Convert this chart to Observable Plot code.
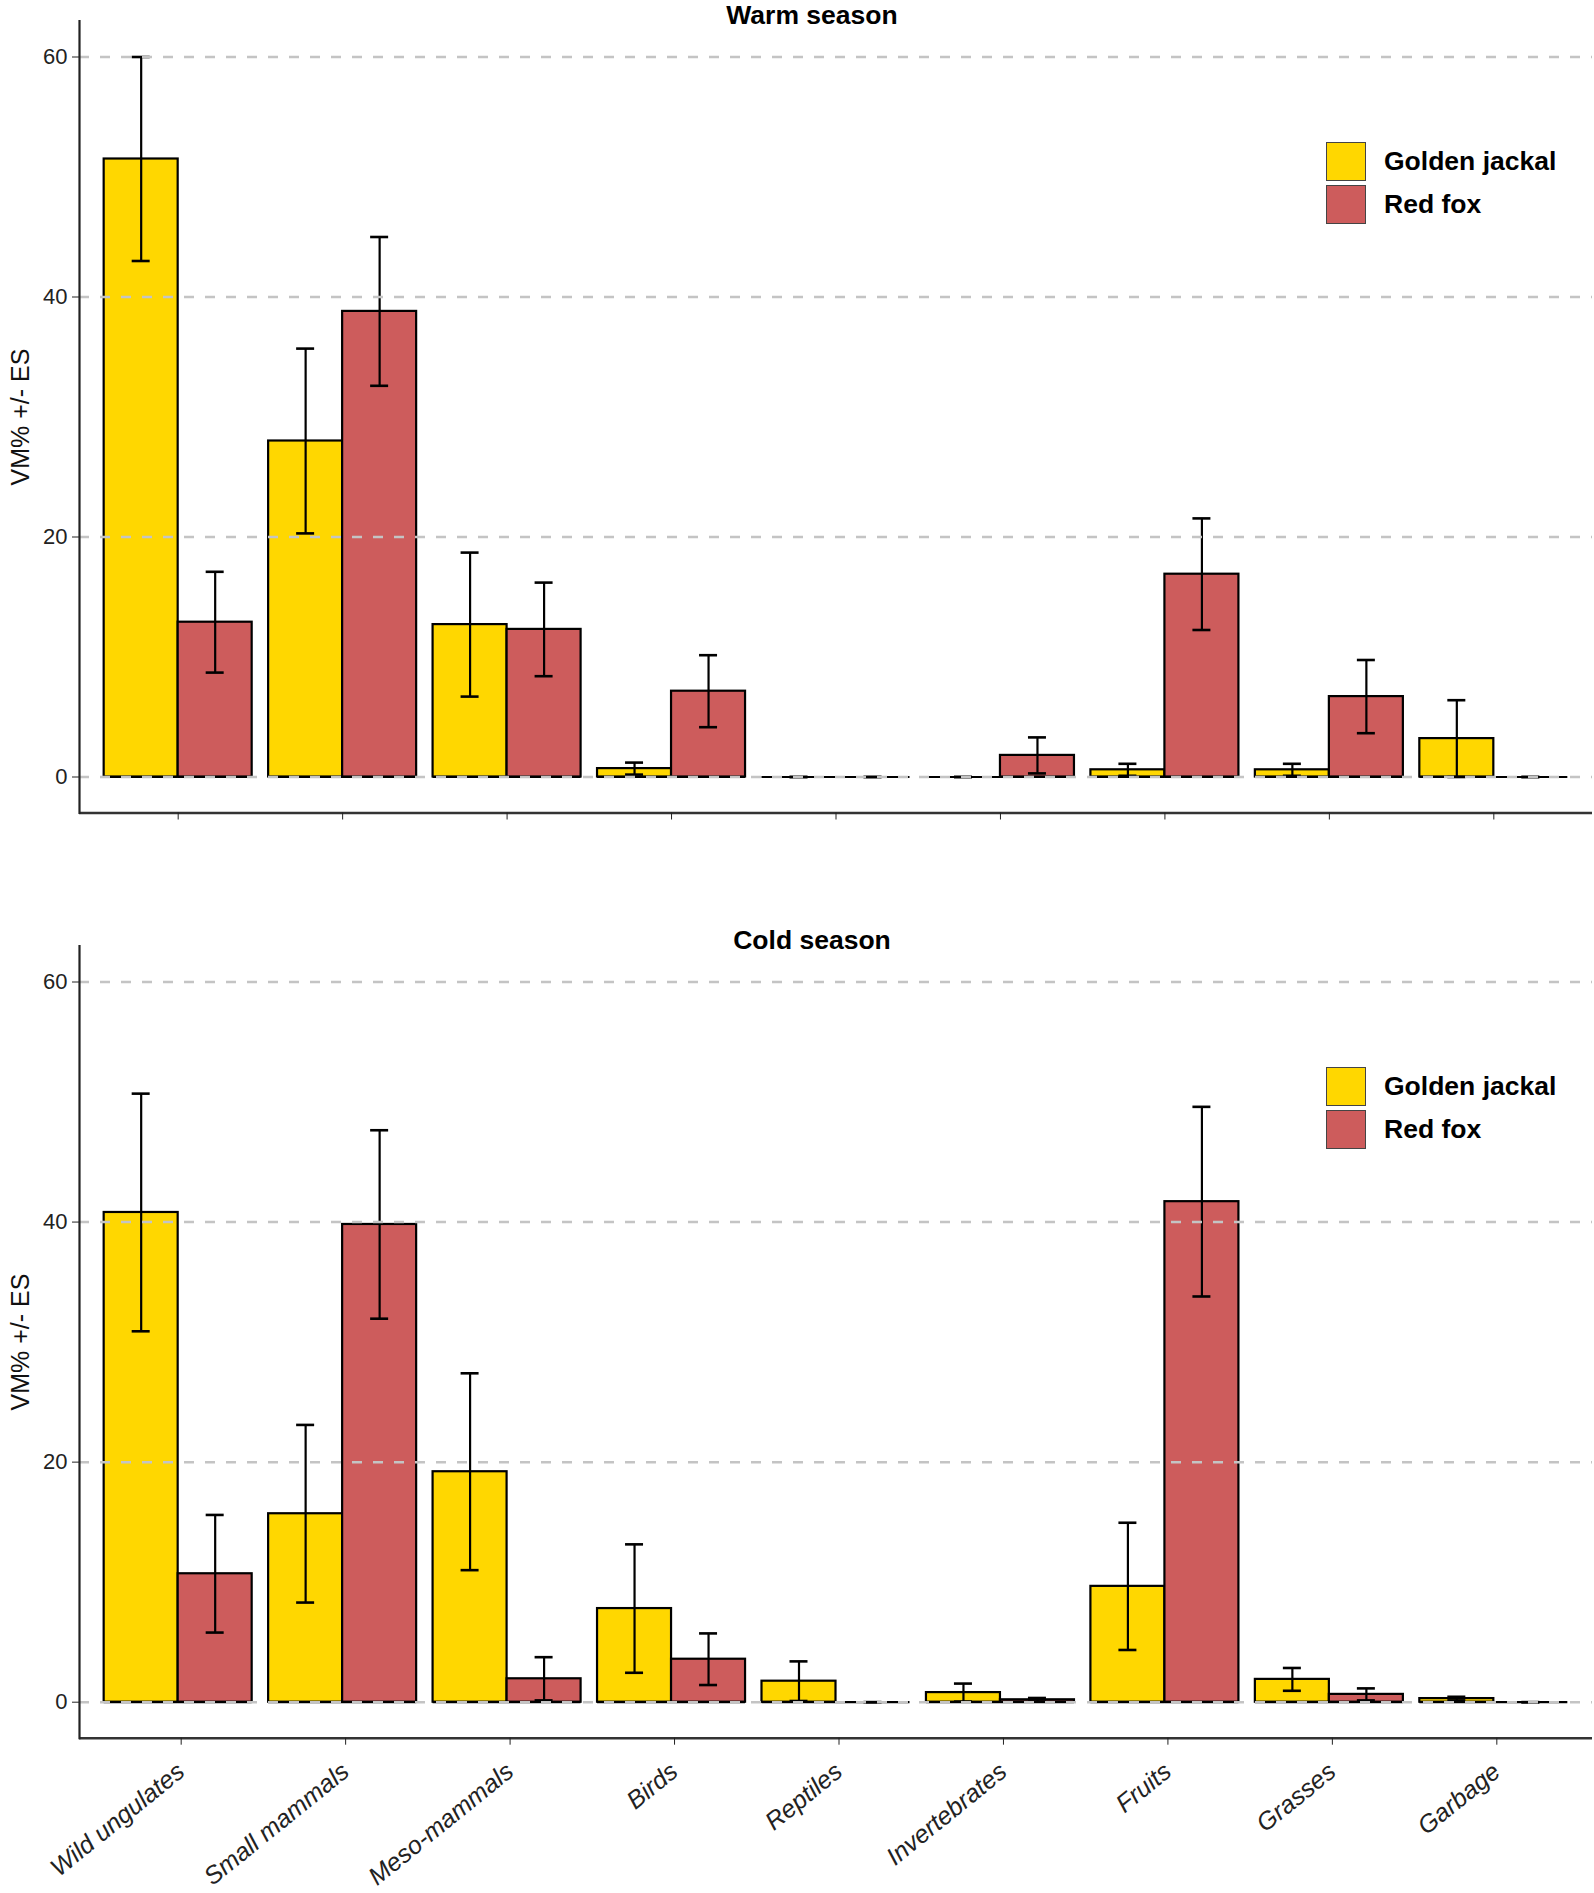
<!DOCTYPE html>
<html><head><meta charset="utf-8">
<script src="https://cdn.jsdelivr.net/npm/d3@7"></script>
<script src="https://cdn.jsdelivr.net/npm/@observablehq/plot@0.6"></script>
<style>
body{margin:0;background:#fff;font-family:"Liberation Sans",Arial,sans-serif;}
#wrap{position:relative;width:1594px;height:1893px;overflow:hidden;background:#fff;}
.panel{position:absolute;left:0;}
.legend{position:absolute;left:1326px;}
.key{display:flex;align-items:center;height:43.5px;}
.sw{width:38px;height:37px;border:1.5px solid #444;}
.lab{margin-left:18px;font-weight:bold;font-size:26.5px;color:#000;white-space:nowrap;}
</style></head><body><div id="wrap"></div>
<script>
const categories = ["Wild ungulates","Small mammals","Meso-mammals","Birds","Reptiles","Invertebrates","Fruits","Grasses","Garbage"];
const species = ["Golden jackal","Red fox"];
const colors = ["#FFD700","#CD5C5C"];
const seasons = ["Warm season","Cold season"];
const yTicks = [0,20,40,60];
const yLabel = "VM% +/- ES";

// Warm season
const warmJackalMean = [51.5, 28.0, 12.7, 0.7, 0, 0, 0.6, 0.6, 3.2];
const warmJackalSE   = [8.5, 7.7, 6.0, 0.5, 0, 0, 0.5, 0.5, 3.2];
const warmFoxMean    = [12.9, 38.8, 12.3, 7.15, 0, 1.8, 16.9, 6.7, 0];
const warmFoxSE      = [4.2, 6.2, 3.9, 3.0, 0, 1.5, 4.65, 3.05, 0];
// Cold season
const coldJackalMean = [40.8, 15.7, 19.2, 7.8, 1.75, 0.8, 9.65, 1.9, 0.3];
const coldJackalSE   = [9.9, 7.4, 8.2, 5.35, 1.65, 0.75, 5.3, 0.95, 0.15];
const coldFoxMean    = [10.7, 39.8, 1.95, 3.58, 0, 0.2, 41.7, 0.65, 0];
const coldFoxSE      = [4.9, 7.85, 1.8, 2.15, 0, 0.15, 7.9, 0.5, 0];

function makeRows(jm, js, fm, fs) {
  return categories.flatMap((c, i) => [
    {category: c, species: species[0], mean: jm[i], lo: jm[i] - js[i], hi: jm[i] + js[i]},
    {category: c, species: species[1], mean: fm[i], lo: fm[i] - fs[i], hi: fm[i] + fs[i]}
  ]);
}

const W = 1594, ML = 79, MR = 2;
const pIn = 0.1, pOut = 0.15;
const step = (W - ML - MR) / (categories.length - pIn + 2 * pOut);
const bw = step * (1 - pIn);
const half = bw / 2, quarter = bw / 4, cap = 9;
const FONT = "'Liberation Sans', Arial, sans-serif";

function panel({title, rows, height, top, marginTop, marginBottom, showLabels}) {
  const jack = rows.filter(d => d.species === species[0]);
  const fox = rows.filter(d => d.species === species[1]);
  const plot = Plot.plot({
    width: W, height, marginLeft: ML, marginRight: MR, marginTop, marginBottom,
    style: {fontFamily: FONT, background: "transparent", overflow: "visible"},
    x: {domain: categories, type: "band", paddingInner: pIn, paddingOuter: pOut, round: false, label: null},
    y: {domain: [-3, 63], label: null},
    color: {domain: species, range: colors},
    marks: [
      Plot.barY(jack, {x: "category", y: "mean", fill: "species", stroke: "#000", strokeWidth: 2.2, insetRight: half}),
      Plot.barY(fox, {x: "category", y: "mean", fill: "species", stroke: "#000", strokeWidth: 2.2, insetLeft: half}),
      Plot.tickY(jack, {x: "category", y: () => 0, stroke: "#000", strokeWidth: 2.2, insetRight: half}),
      Plot.tickY(fox, {x: "category", y: () => 0, stroke: "#000", strokeWidth: 2.2, insetLeft: half}),
      Plot.ruleX(jack, {x: "category", y1: "lo", y2: "hi", dx: -quarter, stroke: "#000", strokeWidth: 2.2}),
      Plot.ruleX(fox, {x: "category", y1: "lo", y2: "hi", dx: quarter, stroke: "#000", strokeWidth: 2.2}),
      Plot.tickY(jack, {x: "category", y: "hi", insetLeft: quarter - cap, insetRight: 3 * quarter - cap, stroke: "#000", strokeWidth: 2.6}),
      Plot.tickY(jack, {x: "category", y: "lo", insetLeft: quarter - cap, insetRight: 3 * quarter - cap, stroke: "#000", strokeWidth: 2.6}),
      Plot.tickY(fox, {x: "category", y: "hi", insetLeft: 3 * quarter - cap, insetRight: quarter - cap, stroke: "#000", strokeWidth: 2.6}),
      Plot.tickY(fox, {x: "category", y: "lo", insetLeft: 3 * quarter - cap, insetRight: quarter - cap, stroke: "#000", strokeWidth: 2.6}),
      Plot.ruleY(yTicks, {stroke: "#c4c4c4", strokeWidth: 2.5, strokeDasharray: "10,11"}),
      Plot.ruleY([-3], {stroke: "#333", strokeWidth: 2.5}),
      Plot.frame({anchor: "left", stroke: "#222", strokeWidth: 2.2}),
      Plot.axisY({ticks: yTicks, tickSize: 7, tickPadding: 5, fontSize: 22, color: "#222", label: null}),
      Plot.axisX({tickSize: 7, tickPadding: showLabels ? 23 : 8, tickRotate: showLabels ? -39 : 0, dx: showLabels ? 3 : 0,
        fontSize: 25, fontStyle: "italic", color: "#222", label: null,
        tickFormat: showLabels ? (d => d) : (() => "")}),
      Plot.text([title], {text: d => d, frameAnchor: "top", lineAnchor: "bottom", dx: -24, dy: 3, fontSize: 26.5, fontWeight: "bold", fill: "#000"}),
      Plot.text([yLabel], {text: d => d, frameAnchor: "left", textAnchor: "middle", dx: -58.5, rotate: -90, fontSize: 25, fill: "#111"})
    ]
  });
  const div = document.createElement("div");
  div.className = "panel";
  div.style.top = top + "px";
  div.appendChild(plot);
  document.getElementById("wrap").appendChild(div);

  const leg = document.createElement("div");
  leg.className = "legend";
  leg.style.top = (top + marginTop + 119.2) + "px";
  species.forEach((s, i) => {
    const k = document.createElement("div");
    k.className = "key";
    const sw = document.createElement("div");
    sw.className = "sw";
    sw.style.background = colors[i];
    const lab = document.createElement("div");
    lab.className = "lab";
    lab.textContent = s;
    k.appendChild(sw); k.appendChild(lab);
    leg.appendChild(k);
  });
  document.getElementById("wrap").appendChild(leg);
}

panel({title: seasons[0], rows: makeRows(warmJackalMean, warmJackalSE, warmFoxMean, warmFoxSE),
  height: 880, top: 0, marginTop: 20.5, marginBottom: 67.5, showLabels: false});
panel({title: seasons[1], rows: makeRows(coldJackalMean, coldJackalSE, coldFoxMean, coldFoxSE),
  height: 1013, top: 880, marginTop: 65.5, marginBottom: 155.3, showLabels: true});
</script></body></html>
